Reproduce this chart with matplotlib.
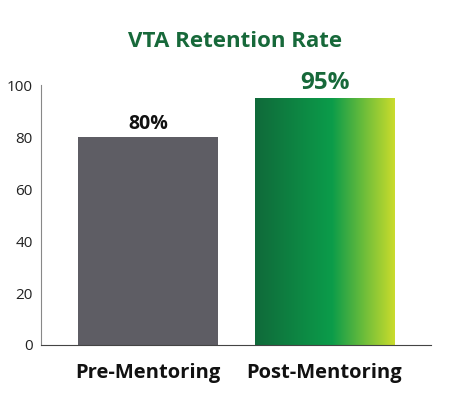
import matplotlib
matplotlib.use('Agg')
import matplotlib.pyplot as plt
import numpy as np
from matplotlib.colors import LinearSegmentedColormap

categories = ['Pre-Mentoring', 'Post-Mentoring']
values = [80, 95]
labels = ['80%', '95%']

plt.rcParams['font.family'] = ['Open Sans', 'DejaVu Sans']

fig = plt.figure(figsize=(4.52, 3.98), dpi=100)
ax = fig.add_axes([0.0907, 0.1332, 0.8628, 0.6528])

x = np.arange(len(categories))
width = 0.793
bars = ax.bar(x, values, width=width, color=['#5e5d64', 'none'], zorder=2)

# gradient fill for the post-mentoring bar
cmap = LinearSegmentedColormap.from_list('grn', [(0, '#106a3a'), (0.55, '#0b9c4a'), (1, '#cadc2c')])
b = bars[1]
grad = np.linspace(0, 1, 256).reshape(1, -1)
ax.imshow(grad, cmap=cmap, aspect='auto', zorder=2,
          extent=[b.get_x(), b.get_x() + b.get_width(), 0, b.get_height()])

ax.text(x[0], values[0] + 1.2, labels[0], ha='center', va='bottom',
        fontsize=14, fontweight='bold', color='#111111')
ax.text(x[1], values[1] + 1.2, labels[1], ha='center', va='bottom',
        fontsize=17.5, fontweight='bold', color='#17693a')

ax.set_xlim(-0.606, 1.603)
ax.set_ylim(0, 100)
ax.set_yticks([0, 20, 40, 60, 80, 100])
ax.set_xticks(x)
ax.set_xticklabels(categories, fontsize=14.5, fontweight='bold', color='#111111')
ax.tick_params(axis='x', length=0, pad=13)
ax.tick_params(axis='y', length=0, labelsize=11, pad=6, labelcolor='#222222')
for s in ['top', 'right']:
    ax.spines[s].set_visible(False)
ax.spines['left'].set_color('#888888')
ax.spines['bottom'].set_color('#444444')

fig.text(0.52, 0.895, 'VTA Retention Rate', ha='center', va='center',
         fontsize=16, fontweight='bold', color='#17693a')

fig.savefig('out.png', dpi=100)
